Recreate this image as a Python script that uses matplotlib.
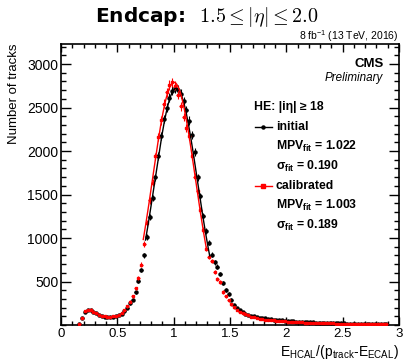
import numpy as np
import matplotlib
matplotlib.use("Agg")
import matplotlib.pyplot as plt
from matplotlib.ticker import MultipleLocator, FixedLocator, FuncFormatter

plt.rcParams['font.family'] = ['Liberation Sans', 'DejaVu Sans']
plt.rcParams['mathtext.fontset'] = 'custom'
plt.rcParams['mathtext.rm'] = 'Liberation Sans'
plt.rcParams['mathtext.it'] = 'Liberation Sans:italic'
plt.rcParams['mathtext.bf'] = 'Liberation Sans:bold'

# histogram bins: width 0.025, first filled bin centred at 0.1625
bin_width = 0.025
first_center = 0.1625

calibrated = [
    8, 80, 160, 172, 178, 155, 135, 118, 108, 98,
    90, 92, 98, 108, 118, 138, 168, 213, 270, 330,
    420, 542, 695, 930, 1170, 1432, 1635, 1938, 2160, 2352,
    2545, 2676, 2758, 2788, 2748, 2645, 2515, 2392, 2262, 2170,
    1937, 1705, 1543, 1321, 1090, 876, 785, 735, 613, 532,
    491, 380, 330, 284, 238, 203, 173, 153, 138, 123,
    112, 97, 87, 77, 72, 67, 62, 59, 57, 53,
    49, 47, 44, 41, 37, 35, 34, 32, 30, 29,
    27, 26, 25, 24, 23, 22, 21, 20, 19, 19,
    18, 17, 16, 16, 15, 15, 14, 13, 13, 12,
    12, 11, 11, 10, 10, 9, 9, 8, 8, 7,
]
initial = [
    6, 75, 155, 170, 175, 152, 133, 116, 106, 96,
    88, 90, 95, 104, 114, 132, 160, 195, 248, 292,
    375, 510, 630, 800, 1010, 1245, 1460, 1700, 1940, 2170,
    2370, 2500, 2610, 2690, 2720, 2705, 2660, 2570, 2470, 2350,
    2180, 1985, 1700, 1480, 1250, 1080, 945, 810, 720, 670,
    590, 480, 400, 355, 290, 225, 195, 172, 150, 130,
    115, 108, 100, 94, 86, 80, 75, 70, 65, 62,
    58, 55, 52, 49, 46, 44, 42, 40, 38, 36,
    34, 32, 31, 29, 28, 27, 26, 25, 24, 23,
    22, 21, 20, 19, 18, 17, 16, 15, 15, 14,
    13, 13, 12, 11, 11, 10, 10, 9, 9, 8,
]

# gaussian fit results
mpv_init, sigma_init, norm_init = 1.022, 0.190, 2720
range_init = (0.75, 1.32)
mpv_cal, sigma_cal, norm_cal = 1.003, 0.189, 2790
range_cal = (0.73, 1.29)

x = first_center + bin_width * np.arange(len(calibrated))
cal = np.array(calibrated, dtype=float)
ini = np.array(initial, dtype=float)

fig = plt.figure(figsize=(4.04, 3.64), dpi=100)
ax = fig.add_axes([61/404, 1-325/364, 338/404, 281/364])

ax.errorbar(x, ini, xerr=bin_width/2, yerr=np.sqrt(ini), fmt='o', color='black',
            ms=2.2, elinewidth=0.8, capsize=0, zorder=3)
ax.errorbar(x, cal, xerr=bin_width/2, yerr=np.sqrt(cal), fmt='s', color='red',
            ms=2.0, elinewidth=0.8, capsize=0, zorder=4)

def gaus(t, norm, mean, sigma):
    return norm * np.exp(-0.5 * ((t - mean) / sigma) ** 2)

t = np.linspace(*range_init, 200)
ax.plot(t, gaus(t, norm_init, mpv_init, sigma_init), color='black', lw=1.0, zorder=5)
t = np.linspace(*range_cal, 200)
ax.plot(t, gaus(t, norm_cal, mpv_cal, sigma_cal), color='red', lw=1.0, zorder=6)

ax.set_xlim(0, 3)
ax.set_ylim(0, 3230)
ax.xaxis.set_major_locator(MultipleLocator(0.5))
ax.xaxis.set_minor_locator(MultipleLocator(0.1))
ax.yaxis.set_major_locator(FixedLocator([500, 1000, 1500, 2000, 2500, 3000]))
ax.yaxis.set_minor_locator(MultipleLocator(100))
ax.xaxis.set_major_formatter(FuncFormatter(lambda v, p: '%g' % v))
ax.tick_params(which='both', direction='in', top=True, right=True, labelsize=10, width=1.0)
ax.tick_params(axis='x', which='major', length=6, pad=2, labelsize=9.5)
ax.tick_params(axis='x', which='minor', length=3)
ax.tick_params(axis='y', which='major', length=7, pad=2)
ax.tick_params(axis='y', which='minor', length=3.5)
for s in ax.spines.values():
    s.set_linewidth(1.2)

fig.text(207/404, 1-17/364, r'Endcap:  $1.5 \leq |\eta| \leq 2.0$', ha='center', va='center',
         fontsize=14.5, fontweight='bold', family='DejaVu Sans', math_fontfamily='cm')
fig.text(398/404, 1-36/364, r'8 fb$^{-1}$ (13 TeV, 2016)', ha='right', va='center', fontsize=7.5)
fig.text(14/404, 1-44/364, 'Number of tracks', rotation=90, ha='center', va='top', fontsize=9.5)
fig.text(399/404, 1-356/364, r'E$_{\mathrm{HCAL}}$/(p$_{\mathrm{track}}$-E$_{\mathrm{ECAL}}$)',
         ha='right', va='baseline', fontsize=10)

ax.text(0.956, 0.929, 'CMS', transform=ax.transAxes, ha='right', va='center',
        fontsize=9.5, fontweight='bold')
ax.text(0.953, 0.879, 'Preliminary', transform=ax.transAxes, ha='right', va='center',
        fontsize=8.4, style='italic')

# legend block
lx_text = 0.636
fs_leg = 8.8
ax.text(0.571, 0.777, 'HE: |iη| ≥ 18', transform=ax.transAxes, ha='left', va='center',
        fontsize=fs_leg, fontweight='bold')
for y, col, mk, name, mpv, sig in [(0.706, 'black', 'o', 'initial', mpv_init, sigma_init),
                                   (0.496, 'red', 's', 'calibrated', mpv_cal, sigma_cal)]:
    ax.plot([0.574, 0.624], [y, y], color=col, lw=1.0, transform=ax.transAxes, clip_on=False)
    ax.plot([0.599], [y], marker=mk, ms=2.2, color=col, transform=ax.transAxes, clip_on=False)
    ax.text(lx_text, y, name, transform=ax.transAxes, ha='left', va='center',
            fontsize=fs_leg, fontweight='bold')
    ax.text(lx_text, y - 0.069, r'MPV$_{\mathbf{fit}}$ = %.3f' % mpv, transform=ax.transAxes,
            ha='left', va='center', fontsize=fs_leg, fontweight='bold')
    ax.text(lx_text, y - 0.140, r'σ$_{\mathbf{fit}}$ = %.3f' % sig, transform=ax.transAxes,
            ha='left', va='center', fontsize=fs_leg, fontweight='bold')

fig.savefig('out.png', dpi=100)
